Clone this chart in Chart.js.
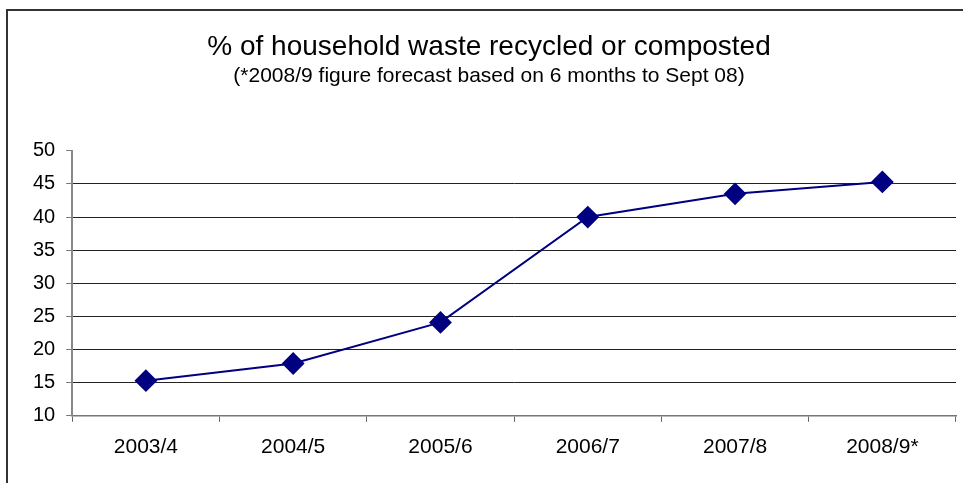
<!DOCTYPE html>
<html>
<head>
<meta charset="utf-8">
<script src="https://cdn.jsdelivr.net/npm/chart.js@4.4.0/dist/chart.umd.min.js"></script>
<style>
  html, body { margin: 0; padding: 0; background: #fff; overflow: hidden; width: 963px; height: 483px; }
  #frame { position: absolute; left: 6px; top: 9px; width: 968px; height: 490px; border: 2px solid #333; background: #fff; }
  #wrap { position: absolute; left: 0; top: 0; width: 968px; height: 474px; }
</style>
</head>
<body>
<div id="frame"><div id="wrap"><canvas id="c"></canvas></div></div>
<script>
const categories = ["2003/4", "2004/5", "2005/6", "2006/7", "2007/8", "2008/9*"];
const recycledPct = [15.3, 17.9, 24.1, 40.0, 43.5, 45.3];
const titleText = "% of household waste recycled or composted";
const subtitleText = "(*2008/9 figure forecast based on 6 months to Sept 08)";

const FONT = "'Liberation Sans', Arial, sans-serif";

new Chart(document.getElementById('c'), {
  type: 'line',
  data: {
    labels: categories,
    datasets: [{
      data: recycledPct,
      borderColor: '#000080',
      backgroundColor: '#000080',
      borderWidth: 2,
      pointStyle: 'rectRot',
      pointRadius: 10,
      pointHoverRadius: 10,
      pointBackgroundColor: '#000080',
      pointBorderColor: '#000080',
      tension: 0,
      fill: false
    }]
  },
  options: {
    responsive: true,
    maintainAspectRatio: false,
    animation: false,
    events: [],
    layout: { padding: { left: 14, right: 20, top: 19, bottom: 12 } },
    plugins: {
      legend: { display: false },
      tooltip: { enabled: false },
      title: {
        display: true,
        text: titleText,
        color: '#000',
        font: { family: FONT, size: 28, weight: 'normal' },
        padding: { top: 0, bottom: 0 }
      },
      subtitle: {
        display: true,
        text: subtitleText,
        color: '#000',
        font: { family: FONT, size: 21, weight: 'normal' },
        padding: { top: 0, bottom: 62 }
      }
    },
    scales: {
      x: {
        offset: true,
        grid: {
          offset: true,
          drawOnChartArea: false,
          drawTicks: true,
          tickLength: 6,
          tickColor: '#666',
          color: '#666'
        },
        border: { display: true, color: '#777', width: 1.5 },
        ticks: {
          color: '#000',
          font: { family: FONT, size: 21 },
          padding: 13,
          maxRotation: 0
        }
      },
      y: {
        min: 10,
        max: 50,
        grid: {
          color: ctx => (ctx.tick && (ctx.tick.value === 50 || ctx.tick.value === 10)) ? 'rgba(0,0,0,0)' : '#222',
          tickColor: '#777',
          tickLength: 6,
          lineWidth: 1
        },
        border: { display: true, color: '#888', width: 2 },
        ticks: {
          stepSize: 5,
          color: '#000',
          font: { family: FONT, size: 20 },
          padding: 11
        }
      }
    }
  }
});
</script>
</body>
</html>
